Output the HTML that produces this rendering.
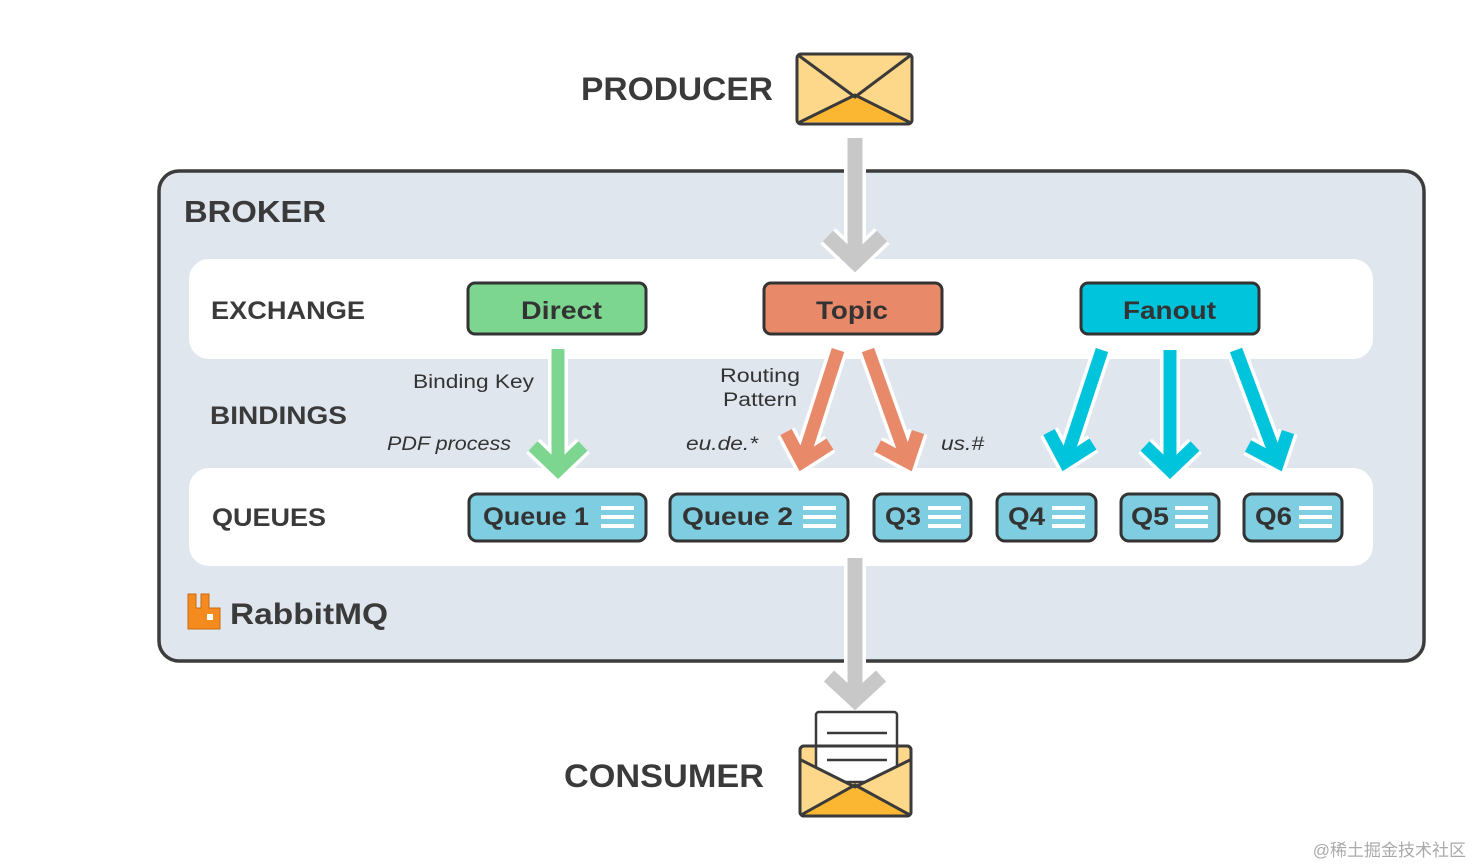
<!DOCTYPE html>
<html><head><meta charset="utf-8"><style>
html,body{margin:0;padding:0;background:#fff;}
svg{display:block;font-family:"Liberation Sans","DejaVu Sans",sans-serif;}
.h{font-weight:bold;fill:#3a3a3a;}
.b{font-weight:bold;fill:#333;}
</style></head><body>
<svg width="1474" height="866" viewBox="0 0 1474 866" xmlns="http://www.w3.org/2000/svg">
<defs>
<g id="lines"><rect x="0" y="0" width="33" height="4" fill="#fff"/><rect x="0" y="9" width="33" height="4" fill="#fff"/><rect x="0" y="18" width="33" height="4" fill="#fff"/></g>
</defs>
<!-- producer envelope -->
<rect x="797" y="54" width="115" height="70" rx="4" fill="#fdd78a" stroke="#3a3a3a" stroke-width="3"/>
<polygon points="799,122 855,95 910,122" fill="#fbb731"/>
<path d="M798,55 L855,97 L911,55 M798,123 L855,95 L911,123" fill="none" stroke="#3a3a3a" stroke-width="3"/>
<text x="581" y="100" class="h" font-size="32" textLength="192" lengthAdjust="spacingAndGlyphs">PRODUCER</text>

<!-- broker -->
<rect x="159" y="171" width="1265" height="490" rx="20" fill="#dfe6ee" stroke="#3c3c3c" stroke-width="3.5"/>
<text x="184" y="222" class="h" font-size="31" textLength="142" lengthAdjust="spacingAndGlyphs">BROKER</text>
<rect x="189" y="259" width="1184" height="100" rx="20" fill="#fff"/>
<rect x="189" y="468" width="1184" height="98" rx="20" fill="#fff"/>
<text x="211" y="319" class="h" font-size="25" textLength="154" lengthAdjust="spacingAndGlyphs">EXCHANGE</text>
<text x="210" y="424" class="h" font-size="25" textLength="137" lengthAdjust="spacingAndGlyphs">BINDINGS</text>
<text x="212" y="526" class="h" font-size="25" textLength="114" lengthAdjust="spacingAndGlyphs">QUEUES</text>

<!-- gray arrows -->
<g stroke-linejoin="miter" fill="none">
<path d="M855,138 V262" stroke="#fff" stroke-width="22"/>
<path d="M828,236 L855,262 L882,236" stroke="#fff" stroke-width="22"/>
<path d="M855,138 V262" stroke="#c8c8c8" stroke-width="15"/>
<path d="M828,236 L855,262 L882,236" stroke="#c8c8c8" stroke-width="15"/>
<path d="M855,558 V700" stroke="#fff" stroke-width="22"/>
<path d="M829,676 L855,700 L881,676" stroke="#fff" stroke-width="22"/>
<path d="M855,558 V700" stroke="#c8c8c8" stroke-width="15"/>
<path d="M829,676 L855,700 L881,676" stroke="#c8c8c8" stroke-width="15"/>
</g>

<!-- exchanges -->
<rect x="468" y="283" width="178" height="51" rx="7" fill="#7dd690" stroke="#333" stroke-width="3"/>
<text x="521" y="319" class="b" font-size="25" textLength="81" lengthAdjust="spacingAndGlyphs">Direct</text>
<rect x="764" y="283" width="178" height="51" rx="7" fill="#e8896a" stroke="#333" stroke-width="3"/>
<text x="816" y="319" class="b" font-size="25" textLength="72" lengthAdjust="spacingAndGlyphs">Topic</text>
<rect x="1081" y="283" width="178" height="51" rx="7" fill="#00c3dc" stroke="#333" stroke-width="3"/>
<text x="1123" y="319" class="b" font-size="25" textLength="93" lengthAdjust="spacingAndGlyphs">Fanout</text>

<!-- binding labels -->
<g fill="#333" font-size="19">
<text x="413" y="388" textLength="121" lengthAdjust="spacingAndGlyphs">Binding Key</text>
<text x="720" y="382" textLength="80" lengthAdjust="spacingAndGlyphs">Routing</text>
<text x="723" y="406" textLength="74" lengthAdjust="spacingAndGlyphs">Pattern</text>
<g font-style="italic"><text x="387" y="450" textLength="124" lengthAdjust="spacingAndGlyphs">PDF process</text>
<text x="686" y="450" textLength="72" lengthAdjust="spacingAndGlyphs">eu.de.*</text>
<text x="941" y="450" textLength="43" lengthAdjust="spacingAndGlyphs">us.#</text></g>
</g>

<!-- colored arrows -->
<g fill="none" stroke-linejoin="miter">
<g stroke="#fff" stroke-width="20">
<path d="M558,349 V470"/><path d="M533,446 L558,470 L583,446"/>
<path d="M838,350 L802,462"/><path d="M786,432 L802,462 L830,444"/>
<path d="M868,350 L908,462"/><path d="M878,446 L908,462 L918,432"/>
<path d="M1102,350 L1065,462"/><path d="M1049,432 L1065,462 L1093,444"/>
<path d="M1170,350 V470"/><path d="M1145,446 L1170,470 L1195,446"/>
<path d="M1236,350 L1278,462"/><path d="M1248,446 L1278,462 L1288,432"/>
</g>
<g stroke-width="13">
<path stroke="#7dd690" d="M558,349 V470"/><path stroke="#7dd690" d="M533,446 L558,470 L583,446"/>
<path stroke="#e8896a" d="M838,350 L802,462"/><path stroke="#e8896a" d="M786,432 L802,462 L830,444"/>
<path stroke="#e8896a" d="M868,350 L908,462"/><path stroke="#e8896a" d="M878,446 L908,462 L918,432"/>
<path stroke="#00c3dc" d="M1102,350 L1065,462"/><path stroke="#00c3dc" d="M1049,432 L1065,462 L1093,444"/>
<path stroke="#00c3dc" d="M1170,350 V470"/><path stroke="#00c3dc" d="M1145,446 L1170,470 L1195,446"/>
<path stroke="#00c3dc" d="M1236,350 L1278,462"/><path stroke="#00c3dc" d="M1248,446 L1278,462 L1288,432"/>
</g>
</g>

<!-- queues -->
<g stroke="#333" stroke-width="3" fill="#7ecde0">
<rect x="469" y="494" width="177" height="47" rx="8"/>
<rect x="670" y="494" width="178" height="47" rx="8"/>
<rect x="874" y="494" width="97" height="47" rx="8"/>
<rect x="997" y="494" width="99" height="47" rx="8"/>
<rect x="1121" y="494" width="98" height="47" rx="8"/>
<rect x="1244" y="494" width="98" height="47" rx="8"/>
</g>
<g class="b" font-size="25">
<text x="483" y="525" textLength="106" lengthAdjust="spacingAndGlyphs">Queue 1</text>
<text x="682" y="525" textLength="111" lengthAdjust="spacingAndGlyphs">Queue 2</text>
<text x="885" y="525" textLength="36" lengthAdjust="spacingAndGlyphs">Q3</text>
<text x="1008" y="525" textLength="37" lengthAdjust="spacingAndGlyphs">Q4</text>
<text x="1131" y="525" textLength="38" lengthAdjust="spacingAndGlyphs">Q5</text>
<text x="1255" y="525" textLength="37" lengthAdjust="spacingAndGlyphs">Q6</text>
</g>
<use href="#lines" x="601" y="506"/>
<use href="#lines" x="803" y="506"/>
<use href="#lines" x="928" y="506"/>
<use href="#lines" x="1052" y="506"/>
<use href="#lines" x="1175" y="506"/>
<use href="#lines" x="1299" y="506"/>

<!-- RabbitMQ logo -->
<path d="M188,594 h8 v14 h5 v-14 h8 v14 h11 v21 h-32 z" fill="#f58a1f" stroke="#c96a10" stroke-width="1"/>
<rect x="207" y="614" width="6" height="6" fill="#fff"/>
<text x="230" y="624" font-size="30" font-weight="bold" fill="#3a3a3a" textLength="158" lengthAdjust="spacingAndGlyphs">RabbitMQ</text>

<!-- consumer -->
<rect x="800" y="746" width="111" height="70" rx="4" fill="#fdd78a" stroke="#3a3a3a" stroke-width="3"/>
<rect x="816" y="712" width="81" height="70" rx="3" fill="#fff" stroke="#3a3a3a" stroke-width="2.5"/>
<path d="M827,733 h60 M827,746 h60 M827,760 h60" stroke="#3a3a3a" stroke-width="2.5"/>
<polygon points="800,760 855,786 911,760 911,816 800,816" fill="#fdd78a"/>
<polygon points="801,815 855,786 910,815" fill="#fbb731"/>
<path d="M801,760 L855,787 L910,760 M801,815 L855,785 L910,815" fill="none" stroke="#3a3a3a" stroke-width="3"/>
<rect x="800" y="746" width="111" height="70" rx="4" fill="none" stroke="#3a3a3a" stroke-width="3"/>
<text x="564" y="787" class="h" font-size="32" textLength="200" lengthAdjust="spacingAndGlyphs">CONSUMER</text>

<text x="1466" y="856" font-size="17" fill="#aaa" text-anchor="end" font-family="'Liberation Sans','Noto Sans CJK SC',sans-serif">@稀土掘金技术社区</text>
</svg>
</body></html>
